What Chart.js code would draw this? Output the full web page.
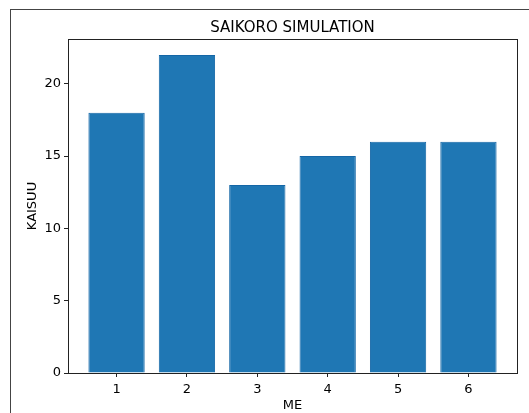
<!DOCTYPE html>
<html>
<head>
<meta charset="utf-8">
<script src="https://cdn.jsdelivr.net/npm/chart.js@4"></script>
<style>
  html, body { margin: 0; padding: 0; background: #fff; overflow: hidden; }
  #frame { position: absolute; left: 10px; top: 9px; width: 600px; height: 500px; border: 1px solid #444; }
  #chart { position: absolute; left: 0; top: 0; }
</style>
</head>
<body>
<div id="frame"></div>
<canvas id="chart" width="529" height="413"></canvas>
<script>
const FACES = [1, 2, 3, 4, 5, 6];
const COUNTS = [18, 22, 13, 15, 16, 16];
const Y_TICKS = [0, 5, 10, 15, 20];

// matplotlib-style outer box round the plot area
const plotFrame = {
  id: 'plotFrame',
  afterDraw(chart) {
    const { ctx, chartArea: a } = chart;
    ctx.save();
    ctx.strokeStyle = '#222';
    ctx.lineWidth = 1;
    ctx.strokeRect(Math.round(a.left) + 0.5, Math.round(a.top) + 0.5,
      Math.round(a.right - a.left), Math.round(a.bottom - a.top));
    ctx.restore();
  },
};

Chart.defaults.font.family = '"DejaVu Sans", sans-serif';
Chart.defaults.color = '#000';

new Chart(document.getElementById('chart'), {
  type: 'bar',
  data: {
    datasets: [{
      data: FACES.map((f, i) => ({ x: f, y: COUNTS[i] })),
      backgroundColor: '#1f77b4',
      borderColor: '#1466a6',
      borderWidth: 1,
      barPercentage: 0.8,
      categoryPercentage: 1,
    }],
  },
  options: {
    responsive: false,
    animation: false,
    layout: { padding: { left: 0, right: 12, top: 0, bottom: 0 } },
    plugins: {
      legend: { display: false },
      tooltip: { enabled: false },
    },
    scales: {
      x: {
        type: 'linear',
        min: 0.31,
        max: 6.69,
        offset: false,
        afterBuildTicks: (s) => { s.ticks = FACES.map((v) => ({ value: v })); },
        afterFit: (s) => { s.height = 40; },
        ticks: { font: { size: 13 }, padding: 5, maxRotation: 0 },
        grid: { drawOnChartArea: false, offset: false, color: '#222', tickLength: 4 },
        border: { display: false },
        title: { display: true, text: 'ME', font: { size: 13 }, padding: { top: 0, bottom: 0 } },
      },
      // top axis only carries the title so it is centred over the plot area
      top: {
        type: 'linear',
        position: 'top',
        min: 0.31,
        max: 6.69,
        afterFit: (s) => { s.height = 39; },
        ticks: { display: false },
        grid: { display: false },
        border: { display: false },
        title: { display: true, text: 'SAIKORO SIMULATION', font: { size: 15 }, padding: { top: 19, bottom: 0 } },
      },
      y: {
        min: 0,
        max: 23.1,
        afterBuildTicks: (s) => { s.ticks = Y_TICKS.map((v) => ({ value: v })); },
        afterFit: (s) => { s.width = 68; },
        ticks: { font: { size: 13 }, padding: 3 },
        grid: { drawOnChartArea: false, color: '#222', tickLength: 4 },
        border: { display: false },
        title: { display: true, text: 'KAISUU', font: { size: 13 }, padding: { top: 25, bottom: 0 } },
      },
    },
  },
  plugins: [plotFrame],
});
</script>
</body>
</html>
